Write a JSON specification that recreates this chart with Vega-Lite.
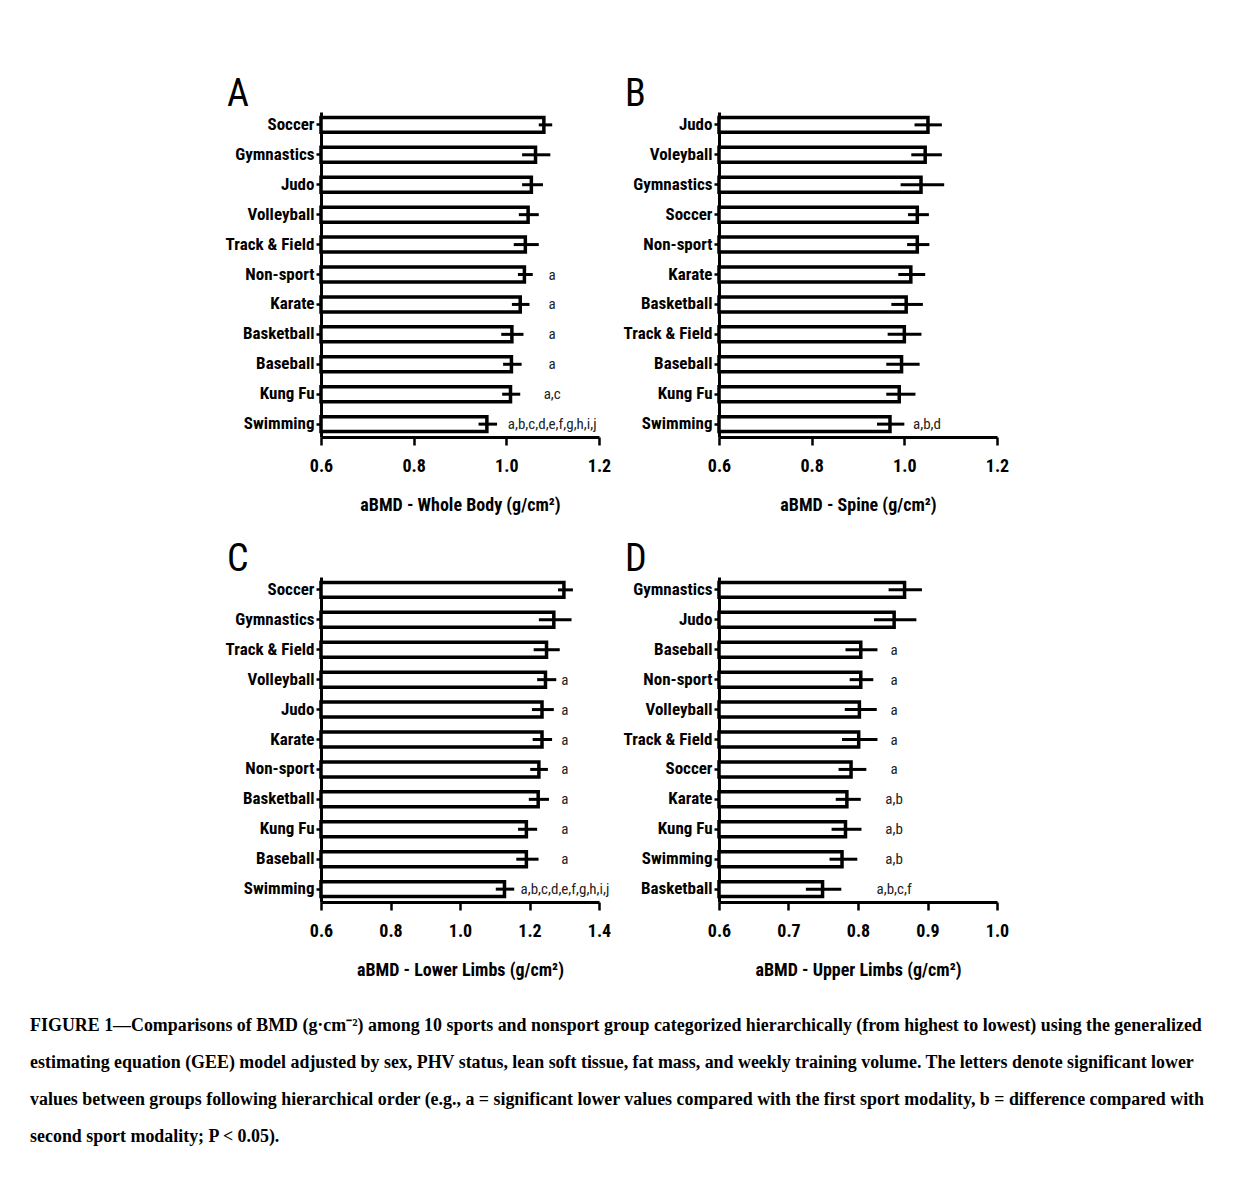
{
  "$schema": "https://vega.github.io/schema/vega-lite/v6.json",
  "background": "white",
  "padding": {"left": 30, "top": 76, "right": 10, "bottom": 10},
  "datasets": {
    "A": [
      {"sport": "Soccer", "mean": 1.081, "lo": 1.070, "hi": 1.099, "letters": ""},
      {"sport": "Gymnastics", "mean": 1.063, "lo": 1.034, "hi": 1.095, "letters": ""},
      {"sport": "Judo", "mean": 1.054, "lo": 1.034, "hi": 1.079, "letters": ""},
      {"sport": "Volleyball", "mean": 1.047, "lo": 1.027, "hi": 1.070, "letters": ""},
      {"sport": "Track & Field", "mean": 1.041, "lo": 1.016, "hi": 1.070, "letters": ""},
      {"sport": "Non-sport", "mean": 1.039, "lo": 1.025, "hi": 1.057, "letters": "a"},
      {"sport": "Karate", "mean": 1.030, "lo": 1.012, "hi": 1.050, "letters": "a"},
      {"sport": "Basketball", "mean": 1.012, "lo": 0.989, "hi": 1.037, "letters": "a"},
      {"sport": "Baseball", "mean": 1.011, "lo": 0.993, "hi": 1.033, "letters": "a"},
      {"sport": "Kung Fu", "mean": 1.009, "lo": 0.991, "hi": 1.030, "letters": "a,c"},
      {"sport": "Swimming", "mean": 0.958, "lo": 0.940, "hi": 0.980, "letters": "a,b,c,d,e,f,g,h,i,j"}
    ],
    "B": [
      {"sport": "Judo", "mean": 1.051, "lo": 1.022, "hi": 1.081, "letters": ""},
      {"sport": "Voleyball", "mean": 1.045, "lo": 1.015, "hi": 1.081, "letters": ""},
      {"sport": "Gymnastics", "mean": 1.036, "lo": 0.992, "hi": 1.086, "letters": ""},
      {"sport": "Soccer", "mean": 1.028, "lo": 1.008, "hi": 1.053, "letters": ""},
      {"sport": "Non-sport", "mean": 1.028, "lo": 1.006, "hi": 1.054, "letters": ""},
      {"sport": "Karate", "mean": 1.014, "lo": 0.987, "hi": 1.045, "letters": ""},
      {"sport": "Basketball", "mean": 1.004, "lo": 0.972, "hi": 1.040, "letters": ""},
      {"sport": "Track & Field", "mean": 1.000, "lo": 0.964, "hi": 1.037, "letters": ""},
      {"sport": "Baseball", "mean": 0.994, "lo": 0.961, "hi": 1.033, "letters": ""},
      {"sport": "Kung Fu", "mean": 0.989, "lo": 0.961, "hi": 1.024, "letters": ""},
      {"sport": "Swimming", "mean": 0.969, "lo": 0.941, "hi": 1.000, "letters": "a,b,d"}
    ],
    "C": [
      {"sport": "Soccer", "mean": 1.299, "lo": 1.282, "hi": 1.325, "letters": ""},
      {"sport": "Gymnastics", "mean": 1.270, "lo": 1.227, "hi": 1.321, "letters": ""},
      {"sport": "Track & Field", "mean": 1.249, "lo": 1.212, "hi": 1.287, "letters": ""},
      {"sport": "Volleyball", "mean": 1.246, "lo": 1.222, "hi": 1.277, "letters": "a"},
      {"sport": "Judo", "mean": 1.236, "lo": 1.207, "hi": 1.270, "letters": "a"},
      {"sport": "Karate", "mean": 1.236, "lo": 1.209, "hi": 1.265, "letters": "a"},
      {"sport": "Non-sport", "mean": 1.227, "lo": 1.202, "hi": 1.253, "letters": "a"},
      {"sport": "Basketball", "mean": 1.225, "lo": 1.198, "hi": 1.256, "letters": "a"},
      {"sport": "Kung Fu", "mean": 1.191, "lo": 1.167, "hi": 1.222, "letters": "a"},
      {"sport": "Baseball", "mean": 1.191, "lo": 1.162, "hi": 1.226, "letters": "a"},
      {"sport": "Swimming", "mean": 1.128, "lo": 1.103, "hi": 1.156, "letters": "a,b,c,d,e,f,g,h,i,j"}
    ],
    "D": [
      {"sport": "Gymnastics", "mean": 0.867, "lo": 0.844, "hi": 0.892, "letters": ""},
      {"sport": "Judo", "mean": 0.852, "lo": 0.823, "hi": 0.884, "letters": ""},
      {"sport": "Baseball", "mean": 0.804, "lo": 0.782, "hi": 0.828, "letters": "a"},
      {"sport": "Non-sport", "mean": 0.804, "lo": 0.788, "hi": 0.822, "letters": "a"},
      {"sport": "Volleyball", "mean": 0.802, "lo": 0.781, "hi": 0.827, "letters": "a"},
      {"sport": "Track & Field", "mean": 0.801, "lo": 0.777, "hi": 0.828, "letters": "a"},
      {"sport": "Soccer", "mean": 0.790, "lo": 0.772, "hi": 0.812, "letters": "a"},
      {"sport": "Karate", "mean": 0.784, "lo": 0.768, "hi": 0.804, "letters": "a,b"},
      {"sport": "Kung Fu", "mean": 0.782, "lo": 0.762, "hi": 0.805, "letters": "a,b"},
      {"sport": "Swimming", "mean": 0.777, "lo": 0.759, "hi": 0.799, "letters": "a,b"},
      {"sport": "Basketball", "mean": 0.749, "lo": 0.725, "hi": 0.776, "letters": "a,b,c,f"}
    ]
  },
  "title": {
    "text": [
      "FIGURE 1—Comparisons of BMD (g·cm⁻²) among 10 sports and nonsport group categorized hierarchically (from highest to lowest) using the generalized",
      "estimating equation (GEE) model adjusted by sex, PHV status, lean soft tissue, fat mass, and weekly training volume. The letters denote significant lower",
      "values between groups following hierarchical order (e.g., a = significant lower values compared with the first sport modality, b = difference compared with",
      "second sport modality; P < 0.05)."
    ],
    "orient": "bottom", "anchor": "start", "frame": "bounds", "dx": -195, "offset": 38,
    "font": "Liberation Serif", "fontSize": 17.9, "fontWeight": "bold", "lineHeight": 37, "color": "black"
  },
  "config": {
    "view": {"stroke": null},
    "font": "Noto Sans ExtraCondensed, Noto Sans Condensed, Roboto Condensed, DejaVu Sans Condensed, sans-serif",
    "axis": {
      "domainColor": "black", "domainWidth": 3, "tickColor": "black", "tickWidth": 2.5,
      "labelColor": "black", "titleColor": "black", "labelFontWeight": "bold", "titleFontWeight": "bold",
      "grid": false,
      "labelFont": "Noto Sans ExtraCondensed, Noto Sans Condensed, Roboto Condensed, DejaVu Sans Condensed, sans-serif",
      "titleFont": "Noto Sans ExtraCondensed, Noto Sans Condensed, Roboto Condensed, DejaVu Sans Condensed, sans-serif"
    },
    "axisX": {"tickSize": 8, "labelFontSize": 18, "labelPadding": 12, "titleFontSize": 18, "titlePadding": 21, "labelFlush": false},
    "axisY": {"tickSize": 5, "labelFontSize": 17, "labelPadding": 2, "title": null},
    "title": {"font": "Noto Sans ExtraCondensed, Noto Sans Condensed, Roboto Condensed, DejaVu Sans Condensed, sans-serif", "fontSize": 38, "fontWeight": "normal", "anchor": "start", "frame": "group", "dx": -94, "offset": -2, "color": "black"}
  },
  "vconcat": [
    {
      "hconcat": [
        {
          "width": 278, "height": 325,
          "title": {"text": "A"},
          "data": {"name": "A"},
          "layer": [
            {"mark": {"type": "bar", "fill": "white", "stroke": "black", "strokeWidth": 3.5},
             "encoding": {
               "y": {"field": "sport", "type": "nominal", "sort": null, "scale": {"paddingInner": 0.5, "paddingOuter": 0.18}},
               "x": {"field": "mean", "type": "quantitative", "scale": {"domain": [0.6, 1.2], "zero": false, "nice": false},
                     "axis": {"values": [0.6, 0.8, 1.0, 1.2], "format": ".1f", "title": "aBMD -  Whole Body (g/cm²)"}},
               "x2": {"datum": 0.6}}},
            {"mark": {"type": "rule", "strokeWidth": 3, "color": "black"},
             "encoding": {
               "y": {"field": "sport", "type": "nominal", "sort": null},
               "x": {"field": "lo", "type": "quantitative", "scale": {"domain": [0.6, 1.2], "zero": false, "nice": false}},
               "x2": {"field": "hi"}}},
            {"mark": {"type": "text", "fontSize": 15, "color": "#222", "align": "center", "baseline": "middle"},
             "encoding": {
               "y": {"field": "sport", "type": "nominal", "sort": null},
               "x": {"datum": 1.099},
               "text": {"field": "letters"}}}
          ]
        },
        {
          "width": 278, "height": 325,
          "title": {"text": "B"},
          "data": {"name": "B"},
          "layer": [
            {"mark": {"type": "bar", "fill": "white", "stroke": "black", "strokeWidth": 3.5},
             "encoding": {
               "y": {"field": "sport", "type": "nominal", "sort": null, "scale": {"paddingInner": 0.5, "paddingOuter": 0.18}},
               "x": {"field": "mean", "type": "quantitative", "scale": {"domain": [0.6, 1.2], "zero": false, "nice": false},
                     "axis": {"values": [0.6, 0.8, 1.0, 1.2], "format": ".1f", "title": "aBMD -  Spine (g/cm²)"}},
               "x2": {"datum": 0.6}}},
            {"mark": {"type": "rule", "strokeWidth": 3, "color": "black"},
             "encoding": {
               "y": {"field": "sport", "type": "nominal", "sort": null},
               "x": {"field": "lo", "type": "quantitative", "scale": {"domain": [0.6, 1.2], "zero": false, "nice": false}},
               "x2": {"field": "hi"}}},
            {"mark": {"type": "text", "fontSize": 15, "color": "#222", "align": "center", "baseline": "middle"},
             "encoding": {
               "y": {"field": "sport", "type": "nominal", "sort": null},
               "x": {"datum": 1.049},
               "text": {"field": "letters"}}}
          ]
        }
      ],
      "spacing": 12
    },
    {
      "hconcat": [
        {
          "width": 278, "height": 325,
          "title": {"text": "C"},
          "data": {"name": "C"},
          "layer": [
            {"mark": {"type": "bar", "fill": "white", "stroke": "black", "strokeWidth": 3.5},
             "encoding": {
               "y": {"field": "sport", "type": "nominal", "sort": null, "scale": {"paddingInner": 0.5, "paddingOuter": 0.18}},
               "x": {"field": "mean", "type": "quantitative", "scale": {"domain": [0.6, 1.4], "zero": false, "nice": false},
                     "axis": {"values": [0.6, 0.8, 1.0, 1.2, 1.4], "format": ".1f", "title": "aBMD -  Lower Limbs (g/cm²)"}},
               "x2": {"datum": 0.6}}},
            {"mark": {"type": "rule", "strokeWidth": 3, "color": "black"},
             "encoding": {
               "y": {"field": "sport", "type": "nominal", "sort": null},
               "x": {"field": "lo", "type": "quantitative", "scale": {"domain": [0.6, 1.4], "zero": false, "nice": false}},
               "x2": {"field": "hi"}}},
            {"mark": {"type": "text", "fontSize": 15, "color": "#222", "align": "center", "baseline": "middle"},
             "encoding": {
               "y": {"field": "sport", "type": "nominal", "sort": null},
               "x": {"datum": 1.302},
               "text": {"field": "letters"}}}
          ]
        },
        {
          "width": 278, "height": 325,
          "title": {"text": "D"},
          "data": {"name": "D"},
          "layer": [
            {"mark": {"type": "bar", "fill": "white", "stroke": "black", "strokeWidth": 3.5},
             "encoding": {
               "y": {"field": "sport", "type": "nominal", "sort": null, "scale": {"paddingInner": 0.5, "paddingOuter": 0.18}},
               "x": {"field": "mean", "type": "quantitative", "scale": {"domain": [0.6, 1.0], "zero": false, "nice": false},
                     "axis": {"values": [0.6, 0.7, 0.8, 0.9, 1.0], "format": ".1f", "title": "aBMD -  Upper Limbs (g/cm²)"}},
               "x2": {"datum": 0.6}}},
            {"mark": {"type": "rule", "strokeWidth": 3, "color": "black"},
             "encoding": {
               "y": {"field": "sport", "type": "nominal", "sort": null},
               "x": {"field": "lo", "type": "quantitative", "scale": {"domain": [0.6, 1.0], "zero": false, "nice": false}},
               "x2": {"field": "hi"}}},
            {"mark": {"type": "text", "fontSize": 15, "color": "#222", "align": "center", "baseline": "middle"},
             "encoding": {
               "y": {"field": "sport", "type": "nominal", "sort": null},
               "x": {"datum": 0.852},
               "text": {"field": "letters"}}}
          ]
        }
      ],
      "spacing": 12
    }
  ],
  "spacing": 27
}
